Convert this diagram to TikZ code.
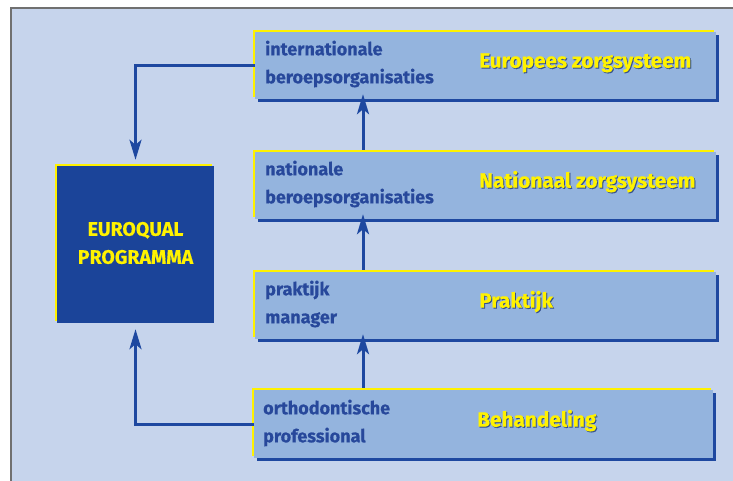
\documentclass[tikz,border=0pt]{standalone}
\usepackage{fontspec}
\setmainfont{Fira Sans}
\newfontfamily\heavyfont[FakeBold=0.4]{Fira Sans}
\usetikzlibrary{arrows.meta}
\definecolor{bgblue}{HTML}{C6D4EC}
\definecolor{boxblue}{HTML}{94B4DE}
\definecolor{darkblue}{HTML}{1B4499}
\definecolor{lineblue}{HTML}{1E48A0}
\definecolor{txtblue}{HTML}{27489B}
\definecolor{yel}{HTML}{FFF200}
\definecolor{shadowtxt}{HTML}{34508E}
\definecolor{framegray}{HTML}{707070}
\begin{document}
\begin{tikzpicture}[x=1pt,y=-1pt,
  levelbox/.style={rectangle, inner sep=0pt, fill=boxblue,
    minimum width=461pt, minimum height=67pt,
    preaction={fill=yel, transform canvas={shift={(-2pt,2pt)}}},
    preaction={fill=lineblue, transform canvas={shift={(3pt,-3pt)}}}},
  eqbox/.style={rectangle, inner sep=0pt, fill=darkblue,
    minimum width=157pt, minimum height=157pt,
    preaction={fill=yel, transform canvas={shift={(-2pt,2pt)}}}},
  roletext/.style={anchor=west, inner sep=0pt, align=left, text=txtblue,
    font=\heavyfont\bfseries\fontsize{18}{28}\selectfont},
  titletext/.style={anchor=base west, inner sep=0pt, text=yel,
    font=\heavyfont\bfseries\fontsize{20.8}{24}\selectfont},
  titleshadow/.style={titletext, text=shadowtxt},
  arr/.style={draw=lineblue, line width=3pt,
    -{Stealth[length=20pt, width=12pt, inset=5pt]}}
]
\useasboundingbox (0,0) rectangle (733,481);
\fill[white] (0,0) rectangle (733,481);
\fill[bgblue] (11,8) rectangle (733,481);
\draw[framegray, line width=1.5pt] (11,481) -- (11,8) -- (733,8);

\node[levelbox] (b1) at (485.5,65.5) {};
\node[levelbox] (b2) at (485.5,185.5) {};
\node[levelbox] (b3) at (485.5,305.5) {};
\node[levelbox, minimum width=459pt, minimum height=68pt] (b4) at (483.5,424) {};
\node[eqbox] (eq) at (135.5,244.5) {};

\node[roletext] (r1) at (265,64) {internationale\\beroepsorganisaties};
\node[roletext] (r2) at (265,184) {nationale\\beroepsorganisaties};
\node[roletext] (r3) at (265,304) {praktijk\\manager};
\node[roletext] (r4) at (263,423) {orthodontische\\professional};

\node[titleshadow] (s1) at (480,68.7) {Europees zorgsysteem};
\node[titletext] (t1) at (479,67.7) {Europees zorgsysteem};
\node[titleshadow] (s2) at (480,188.7) {Nationaal zorgsysteem};
\node[titletext] (t2) at (479,187.7) {Nationaal zorgsysteem};
\node[titleshadow] (s3) at (480,308.7) {Praktijk};
\node[titletext] (t3) at (479,307.7) {Praktijk};
\node[titleshadow] (s4) at (478,427.7) {Behandeling};
\node[titletext] (t4) at (477,426.7) {Behandeling};

\node[align=center, text=yel, font=\heavyfont\bfseries\fontsize{19.5}{28}\selectfont] (eqt) at (135.5,243) {EUROQUAL\\PROGRAMMA};

\coordinate (ax) at (363,0);
\draw[arr, shorten <=2pt, shorten >=-5pt] (b2.north -| ax) -- (b1.south -| ax);
\draw[arr, shorten <=2pt, shorten >=-5pt] (b3.north -| ax) -- (b2.south -| ax);
\draw[arr, shorten <=2pt, shorten >=-5pt] (b4.north -| ax) -- (b3.south -| ax);
\draw[arr, shorten >=6pt] (b1.west) -| (eq.north);
\draw[arr, shorten >=6pt] (b4.west) -| (eq.south);
\end{tikzpicture}
\end{document}
